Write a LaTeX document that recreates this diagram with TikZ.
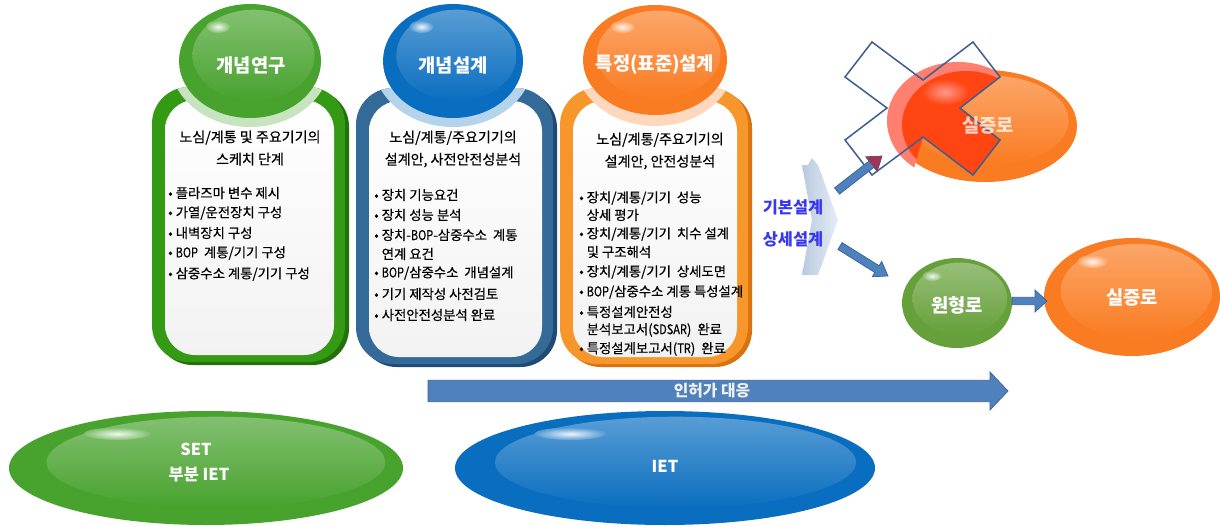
\documentclass[tikz,border=0pt]{standalone}
\usepackage{fontspec}
\setmainfont{Noto Sans CJK KR}
\newfontfamily\medfont[FakeBold=0.45]{Noto Sans CJK KR}
\usetikzlibrary{arrows.meta,calc}
\definecolor{gA}{HTML}{48A22E}
\definecolor{gP}{HTML}{66A03A}
\definecolor{gB}{HTML}{349A14}
\definecolor{gD}{HTML}{23700C}
\definecolor{bA}{HTML}{0A6EC0}
\definecolor{bB}{HTML}{336A98}
\definecolor{bD}{HTML}{1F4A73}
\definecolor{oA}{HTML}{FA7C22}
\definecolor{oB}{HTML}{F7962A}
\definecolor{oD}{HTML}{D9730F}
\definecolor{arr}{HTML}{4F81BD}
\definecolor{arrD}{HTML}{38619A}
\definecolor{txtblue}{HTML}{3838F0}
\definecolor{redX}{HTML}{FF4512}
\definecolor{salmon}{HTML}{FF8070}
\definecolor{crossline}{HTML}{3F5F8F}
\definecolor{wine}{HTML}{9E3556}
\definecolor{chevL}{HTML}{B8CADF}
\definecolor{chevR}{HTML}{E6EDF5}

\newcommand\glossyell[5]{%
 \begin{scope}[shift={(#1,#2)}]
  \fill[#5] (0,0) ellipse [x radius=#3, y radius=#4];
  \shade[top color=white!32!#5, bottom color=#5] ({0.05*#3},{-0.1*#4}) ellipse [x radius={0.86*#3}, y radius={0.8*#4}];
  \shade[inner color=white!92!#5, outer color=white!30!#5] ({-0.45*#3},{-0.6*#4}) ellipse [x radius={0.17*#3}, y radius={0.11*#4}];
 \end{scope}}

\newcommand\stagebox[6]{%
 \fill[#6, rounded corners=1.1cm] (#1+4,#2+3) rectangle (#3+4,#4+3);
 \fill[#5, rounded corners=1.1cm] (#1,#2) rectangle (#3,#4);
 \shade[top color=white, bottom color=gray!10, rounded corners=0.9cm] (#1+13,#2+13) rectangle (#3-11,#4-7);
}

\newcommand\halo[7]{%
 \begin{scope}
  \clip[rounded corners=1.1cm] (#1,#2) rectangle (#3,#4);
  \fill[#7!30] (#5,#6) ellipse [x radius=80, y radius=66];
 \end{scope}}

\newcommand\blockarrow[6]{%
 \coordinate (tmpC) at ($(#2)!#5!(#1)$);
 \filldraw[fill=#6, draw=arrD, line width=0.6pt, line join=miter]
  ($(#1)!#3!90:(#2)$) -- ($(tmpC)!#3!90:(#2)$) -- ($(tmpC)!#4!90:(#2)$) -- (#2)
  -- ($(tmpC)!#4!-90:(#2)$) -- ($(tmpC)!#3!-90:(#2)$) -- ($(#1)!#3!-90:(#2)$) -- cycle;
}
\newcommand\lat[1]{\scalebox{0.82}[1]{#1}}

\begin{document}
\begin{tikzpicture}[x=0.03cm,y=-0.03cm,
  eltitle/.style={font=\fontsize{16}{18}\selectfont\bfseries, text=white, inner sep=0pt},
  boxtitle/.style={font=\medfont\fontsize{12}{19}\selectfont, align=center, text=black, inner sep=0pt},
  bul/.style={font=\medfont\fontsize{11.4}{12}\selectfont, anchor=west, inner sep=0pt, text=black},
  sidetxt/.style={font=\fontsize{14}{16}\selectfont\bfseries, text=txtblue, inner sep=0pt},
  bigtxt/.style={font=\fontsize{14}{16}\selectfont\bfseries, text=white, inner sep=0pt}]
\useasboundingbox (0,0) rectangle (1220,527);
\fill[white] (0,0) rectangle (1220,527);

% ---- stage boxes ----
\stagebox{152}{87}{345}{362}{gB}{gD}
\stagebox{356}{88}{553}{364}{bB}{bD}
\stagebox{560}{88}{748}{364}{oB}{oD}
\halo{152}{87}{345}{362}{250}{61}{gA}
\halo{356}{88}{553}{364}{453}{61}{bA}
\halo{560}{88}{748}{364}{655}{60}{oA}

% ---- top ellipses ----
\glossyell{250}{61}{71}{57}{gA}
\glossyell{453}{61}{70}{57}{bA}
\glossyell{655}{60}{72}{55}{oA}
\node[eltitle] (t1) at (251,65) {개념연구};
\node[eltitle] (t2) at (453,65) {개념설계};
\node[eltitle] (t3) at (655,65) {특정(표준)설계};

% ---- box texts ----
\node[boxtitle] (h1) at (250,148) {노심/계통 및 주요기기의\\스케치 단계};
\node[boxtitle] (h2) at (453,149) {노심/계통/주요기기의\\설계안, 사전안전성분석};
\node[boxtitle] (h3) at (660,151) {노심/계통/주요기기의\\설계안, 안전성분석};

\node[bul] (g1) at (168,193) {• 플라즈마 변수 제시};
\node[bul] (g2) at (168,213) {• 가열/운전장치 구성};
\node[bul] (g3) at (168,233) {• 내벽장치 구성};
\node[bul] (g4) at (168,253) {• \lat{BOP}\ \ 계통/기기 구성};
\node[bul] (g5) at (168,274) {• 삼중수소 계통/기기 구성};

\node[bul] (b1) at (374,195) {• 장치 기능요건};
\node[bul] (b2) at (374,215) {• 장치 성능 분석};
\node[bul] (b3) at (374,235) {• 장치-\lat{BOP}-삼중수소\ \ 계통};
\node[bul] (b4) at (374,254) {\phantom{• }연계 요건};
\node[bul] (b5) at (374,273) {• \lat{BOP}/삼중수소\ \ 개념설계};
\node[bul] (b6) at (374,294) {• 기기 제작성 사전검토};
\node[bul] (b7) at (374,315) {• 사전안전성분석 완료};

\node[bul] (o1) at (579,198) {• 장치/계통/기기\ \ 성능};
\node[bul] (o2) at (579,215) {\phantom{• }상세 평가};
\node[bul] (o3) at (579,234) {• 장치/계통/기기\ \ 치수 설계};
\node[bul] (o4) at (579,252) {\phantom{• }및 구조해석};
\node[bul] (o5) at (579,272) {• 장치/계통/기기\ \ 상세도면};
\node[bul] (o6) at (579,292) {• \lat{BOP}/삼중수소 계통 특성설계};
\node[bul] (o7) at (579,312) {• 특정설계안전성};
\node[bul] (o8) at (579,330) {\phantom{• }분석보고서(\lat{SDSAR})\ \ 완료};
\node[bul] (o9) at (579,349) {• 특정설계보고서(\lat{TR})\ \ 완료};

% ---- chevron and side labels ----
\shade[left color=chevL, right color=chevR] (802,165) -- (808,165) -- (812,158) -- (818,165) -- (838,220) -- (818,275) -- (802,275) -- (812,220) -- cycle;
\node[sidetxt] (s1) at (793,207) {기본설계};
\node[sidetxt] (s2) at (793,239) {상세설계};

% ---- top right: crossed demo reactor ----
\glossyell{985}{126}{92}{56}{oA}
\begin{scope}
 \clip (850,30) -- (973,30) -- (973,42) -- (1000,77) -- (960,108) -- (1000,140) -- (973,175) -- (923,137) -- (905,200) -- (850,200) -- cycle;
 \fill[salmon] (958,121) ellipse [x radius=71, y radius=59];
 \fill[redX] (966,125) ellipse [x radius=64, y radius=54];
 \shade[inner color=salmon!80!white, outer color=redX] (945,92) ellipse [x radius=24, y radius=13];
\end{scope}
\draw[crossline, line width=1.3pt, line join=miter] (872,42) -- (923,80) -- (973,42) -- (1000,77) -- (960,108) -- (1000,140) -- (973,175) -- (923,137) -- (872,175) -- (845,140) -- (887,108) -- (845,77) -- cycle;
\node[eltitle, text=white, text opacity=0.75] (d1) at (988,125) {실증로};

% ---- bottom right ----
\glossyell{957}{303}{55}{45}{gP}
\node[eltitle] (p1) at (957,305) {원형로};
\glossyell{1132}{297}{88}{59}{oA}
\node[eltitle] (d2) at (1132,297) {실증로};

% ---- arrows ----
\coordinate (ua1) at (837,191);
\coordinate (ua2) at (882,156);
\coordinate (la1) at (840,246);
\coordinate (la2) at (888,276);
\coordinate (pa1) at (1012,301);
\coordinate (pa2) at (1047,301);
\blockarrow{ua1}{ua2}{0.12cm}{0.28cm}{0.4cm}{arr}
\fill[wine] ($(tmpC)!0.28cm!90:(ua2)$) -- (ua2) -- ($(tmpC)!0.28cm!-90:(ua2)$) -- cycle;
\blockarrow{la1}{la2}{0.12cm}{0.27cm}{0.39cm}{arr}
\blockarrow{pa1}{pa2}{0.11cm}{0.33cm}{0.36cm}{arr}

% ---- licensing arrow ----
\coordinate (ba1) at (428,391);
\coordinate (ba2) at (1008,391);
\blockarrow{ba1}{ba2}{0.32cm}{0.57cm}{0.54cm}{arr}
\node[font=\fontsize{13.5}{15}\selectfont\bfseries, text=white!88!gray, inner sep=0pt] (lic) at (712,391) {인허가 대응};

% ---- bottom ellipses ----
\glossyell{206}{468}{197}{57}{gA}
\node[bigtxt] (e1) at (196,449) {SET};
\node[bigtxt] (e2) at (199,475) {부분 IET};
\glossyell{665}{468}{210}{57}{bA}
\node[bigtxt] (e3) at (665,466) {IET};
\end{tikzpicture}
\end{document}
